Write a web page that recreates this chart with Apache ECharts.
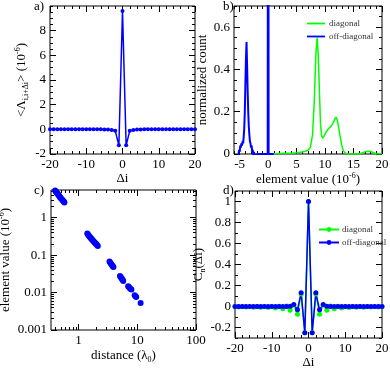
<!DOCTYPE html>
<html>
<head>
<meta charset="utf-8">
<script src="https://cdn.jsdelivr.net/npm/echarts@6/dist/echarts.min.js"></script>
<style>
  html, body { margin: 0; padding: 0; background: #fff; }
  #chart { width: 390px; height: 368px; }
</style>
</head>
<body>
<div id="chart"></div>
<script>
// a) 平均元素值 vs Δi
var deltaI = [-20, -19, -18, -17, -16, -15, -14, -13, -12, -11, -10, -9, -8, -7, -6, -5, -4, -3, -2, -1,
  0, 1, 2, 3, 4, 5, 6, 7, 8, 9, 10, 11, 12, 13, 14, 15, 16, 17, 18, 19, 20];
var avgLambda = [0, 0, 0, 0, 0, 0, 0, 0, 0, 0, 0, 0, 0, 0, 0, -0.01, -0.02, -0.06, -0.12, -1.3,
  9.6, -1.3, -0.12, -0.06, -0.02, -0.01, 0, 0, 0, 0, 0, 0, 0, 0, 0, 0, 0, 0, 0, 0, 0];

// b) 直方图
var diagX = [0, 1, 2, 3, 4, 5, 6, 6.5, 7, 7.4, 7.8, 8.1, 8.4, 8.6, 8.8, 9.0, 9.2, 9.4, 9.6, 9.8,
  10.2, 10.6, 11.0, 11.4, 11.7, 11.9, 12.1, 12.3, 12.6, 12.9, 13.2, 13.6, 14, 15, 16, 16.5, 17, 17.5, 18, 18.5, 19, 20];
var diagCount = [0, 0.001, 0.002, 0.003, 0.004, 0.006, 0.01, 0.013, 0.018, 0.03, 0.09, 0.25, 0.48, 0.55, 0.47, 0.3, 0.14, 0.085, 0.075, 0.085,
  0.105, 0.12, 0.13, 0.145, 0.165, 0.175, 0.165, 0.14, 0.09, 0.045, 0.015, 0.004, 0, 0, 0, 0.005, 0.01, 0.013, 0.012, 0.006, 0, 0];
var offX = [-5.25, -5.1, -5.0, -4.9, -4.8, -4.7, -4.6, -4.5, -4.4, -4.3, -4.2, -4.1, -4.0, -3.9, -3.8, -3.7, -3.6, -3.5, -3.4, -3.3,
  -3.2, -3.1, -3.0, -2.9, -2.8, -2.7, -2.6, -2.5, -2.4, -2.3, -1.5, -0.08, -0.03, 0, 0.03, 0.08, 1];
var offCount = [-0.01, 0.02, 0.01, 0.04, 0.03, 0.05, 0.04, 0.06, 0.05, 0.08, 0.12, 0.2, 0.33, 0.45, 0.53, 0.42, 0.3, 0.2, 0.13, 0.09,
  0.06, 0.05, 0.03, 0.04, 0.01, 0.02, -0.01, 0.01, -0.005, 0, 0, 0, 2, 3, 2, 0, 0];

// c) 元素值 vs 距离（双对数）
var distC = [0.39, 0.40, 0.41, 0.42, 0.43, 0.44, 0.45, 0.46, 0.47, 0.48, 0.49, 0.50, 0.52, 0.535, 0.55, 0.565, 0.575,
  1.41, 1.45, 1.49, 1.53, 1.57, 1.62, 1.66, 1.70, 1.75, 1.80, 1.85, 1.90, 1.95, 2.0, 2.06, 2.13,
  3.37, 3.45, 3.55, 3.65, 3.75, 3.85, 3.93,
  5.08, 5.22, 5.36, 5.5, 5.64, 5.77,
  6.99, 7.2, 7.45, 7.7, 7.94,
  9.03, 9.3, 9.6,
  11.4];
var elemC = [5.6, 5.3, 5.05, 4.8, 4.6, 4.4, 4.2, 4.0, 3.8, 3.6, 3.45, 3.3, 3.1, 2.95, 2.8, 2.65, 2.55,
  0.377, 0.355, 0.335, 0.318, 0.3, 0.285, 0.272, 0.26, 0.247, 0.236, 0.225, 0.215, 0.205, 0.197, 0.187, 0.176,
  0.068, 0.064, 0.06, 0.056, 0.053, 0.05, 0.048,
  0.0276, 0.026, 0.0245, 0.023, 0.0217, 0.0205,
  0.0148, 0.014, 0.0132, 0.0125, 0.012,
  0.0085, 0.008, 0.0076,
  0.0053];

// d) 相关函数
var corrDiag = [0, -0.004, 0, -0.005, 0, -0.006, 0, -0.008, 0, -0.01, 0, -0.015, 0.002, -0.022, 0.004, -0.035, 0.015, -0.073, 0.12, -0.25,
  1, -0.25, 0.12, -0.073, 0.015, -0.035, 0.004, -0.022, 0.002, -0.015, 0, -0.01, 0, -0.008, 0, -0.006, 0, -0.005, 0, -0.004, 0];
var corrOff = [0, 0, 0, 0, 0, 0, 0, 0, 0, 0, 0, 0, 0, 0, 0, 0.003, 0.02, -0.03, 0.13, -0.25,
  1, -0.25, 0.13, -0.03, 0.02, 0.003, 0, 0, 0, 0, 0, 0, 0, 0, 0, 0, 0, 0, 0, 0, 0];

// 刻度
var ticksDi = [-20, -10, 0, 10, 20];
var ticksAy = [-2, 0, 2, 4, 6, 8];
var ticksBx = [-5, 0, 5, 10, 15, 20];
var ticksBy = [0, 0.2, 0.4, 0.6];
var ticksCx = [1, 10, 100];
var ticksCy = [0.001, 0.01, 0.1, 1];
var ticksDy = [-0.2, 0, 0.2, 0.4, 0.6, 0.8, 1];

var font = 'Liberation Serif';
var blue = '#0000ff';
var green = '#00ff00';
var lineIcon = 'path://M0,0H20V2H0Z';

function steps(a, b, s) {
  var out = [];
  for (var v = a; v <= b + 1e-9; v += s) out.push(Math.round(v * 1000) / 1000);
  return out;
}
function logMinor(lo, hi) {
  var out = [];
  for (var d = lo; d < hi; d *= 10) {
    for (var k = 2; k <= 9; k++) out.push(Math.round(k * d * 1e6) / 1e6);
  }
  return out;
}
function pair(xs, ys) {
  return xs.map(function (x, i) { return [x, ys[i]]; });
}

// 四条轴：主刻度+次刻度，两侧都有，朝内
function makeAxes(dim, g, type, min, max, major, minor, name, gap, rich) {
  var sides = dim === 'x' ? ['bottom', 'top'] : ['left', 'right'];
  function ax(pos, vals, len, labels) {
    var a = {
      gridIndex: g, type: type, min: min, max: max, position: pos,
      axisLine: { show: false, onZero: false },
      splitLine: { show: false },
      axisTick: { show: true, inside: true, length: len, customValues: vals, lineStyle: { color: '#000', width: 1 } },
      axisLabel: { show: labels, customValues: vals, color: '#000', fontFamily: font, fontSize: 13, margin: 4 }
    };
    if (type === 'log') a.logBase = 10;
    return a;
  }
  var main = ax(sides[0], major, 6, true);
  main.name = name;
  main.nameLocation = 'middle';
  main.nameGap = gap;
  main.nameTextStyle = { color: '#000', fontFamily: font, fontSize: 13, lineHeight: 14, rich: rich || {} };
  return [main, ax(sides[0], minor, 3, false), ax(sides[1], major, 6, false), ax(sides[1], minor, 3, false)];
}

var subSup = {
  sub: { fontFamily: font, fontSize: 8, verticalAlign: 'bottom', lineHeight: 16, color: '#000' },
  sup: { fontFamily: font, fontSize: 8, verticalAlign: 'top', lineHeight: 16, color: '#000' }
};

var xAxes = [].concat(
  makeAxes('x', 0, 'value', -20, 20, ticksDi, steps(-20, 20, 2), 'Δi', 17),
  makeAxes('x', 1, 'value', -6, 20, ticksBx, steps(-6, 20, 1), 'element value (10{sup|-6})', 15, subSup),
  makeAxes('x', 2, 'log', 0.34, 100, ticksCx, logMinor(0.1, 100).filter(function (v) { return v >= 0.34; }), 'distance (λ{sub|0})', 18, subSup),
  makeAxes('x', 3, 'value', -20, 20, ticksDi, steps(-20, 20, 2), 'Δi', 17)
);
var yAxes = [].concat(
  makeAxes('y', 0, 'value', -2, 10, ticksAy, steps(-2, 10, 0.5), '<Λ{sub|i,i+Δi}> (10{sup|-6})', 20, subSup),
  makeAxes('y', 1, 'value', 0, 0.7, ticksBy, steps(0, 0.7, 0.05), 'normalized count', 18, subSup),
  makeAxes('y', 2, 'log', 0.001, 5.5, ticksCy, logMinor(0.001, 10).filter(function (v) { return v <= 5.5; }), 'element value (10{sup|-6})', 33, subSup),
  makeAxes('y', 3, 'value', -0.3, 1.1, ticksDy, steps(-0.3, 1.1, 0.1), 'C{sub|n}(Δi)', 23, subSup)
);

var gridBase = { show: true, borderColor: '#000', borderWidth: 1, backgroundColor: 'transparent', containLabel: false, outerBoundsMode: 'none' };
function grid(l, t, w, h) {
  return Object.assign({}, gridBase, { left: l, top: t, width: w, height: h });
}

var chart = echarts.init(document.getElementById('chart'), null, { renderer: 'canvas' });
var option = {
  animation: false,
  backgroundColor: '#fff',
  grid: [grid(50, 6, 145, 148), grid(234, 6, 148, 148), grid(51, 190, 145, 140), grid(235, 191, 147, 147)],
  xAxis: xAxes,
  yAxis: yAxes,
  legend: [
    {
      data: ['diagonal', 'off-diagonal'], orient: 'vertical', left: 302, top: 14,
      icon: lineIcon, itemWidth: 18, itemHeight: 2, itemGap: 4,
      textStyle: { fontFamily: font, fontSize: 9, color: '#333', padding: [0, 0, 0, -1] }
    },
    {
      data: ['diagonal ', 'off-diagonal '], orient: 'vertical', left: 313, top: 220,
      itemWidth: 20, itemHeight: 6, itemGap: 4,
      textStyle: { fontFamily: font, fontSize: 9, color: '#333', padding: [0, 0, 0, -2] }
    }
  ],
  graphic: [
    { type: 'text', left: 34, top: 0, style: { text: 'a)', font: '13px "Liberation Serif"', fill: '#000' } },
    { type: 'text', left: 223, top: 0, style: { text: 'b)', font: '13px "Liberation Serif"', fill: '#000' } },
    { type: 'text', left: 34, top: 184, style: { text: 'c)', font: '13px "Liberation Serif"', fill: '#000' } },
    { type: 'text', left: 223, top: 184, style: { text: 'd)', font: '13px "Liberation Serif"', fill: '#000' } }
  ],
  series: [
    {
      name: 'a', type: 'line', xAxisIndex: 0, yAxisIndex: 0,
      data: pair(deltaI, avgLambda),
      symbol: 'circle', symbolSize: 4,
      lineStyle: { color: blue, width: 1.5 }, itemStyle: { color: blue }
    },
    {
      name: 'diagonal', type: 'line', xAxisIndex: 4, yAxisIndex: 4,
      data: pair(diagX, diagCount), showSymbol: false, symbol: 'none',
      lineStyle: { color: green, width: 1.5 }, itemStyle: { color: green }
    },
    {
      name: 'off-diagonal', type: 'line', xAxisIndex: 4, yAxisIndex: 4,
      data: pair(offX, offCount), showSymbol: false, symbol: 'none',
      lineStyle: { color: blue, width: 2 }, itemStyle: { color: blue }
    },
    {
      name: 'c', type: 'scatter', xAxisIndex: 8, yAxisIndex: 8,
      data: pair(distC, elemC), symbolSize: 6,
      itemStyle: { color: blue, opacity: 1 }
    },
    {
      name: 'diagonal ', type: 'line', xAxisIndex: 12, yAxisIndex: 12,
      data: pair(deltaI, corrDiag), symbol: 'circle', symbolSize: 5,
      lineStyle: { color: green, width: 1.5 }, itemStyle: { color: green }
    },
    {
      name: 'off-diagonal ', type: 'line', xAxisIndex: 12, yAxisIndex: 12,
      data: pair(deltaI, corrOff), symbol: 'circle', symbolSize: 5,
      lineStyle: { color: blue, width: 1.5 }, itemStyle: { color: blue }
    }
  ]
};
chart.setOption(option);
</script>
</body>
</html>
